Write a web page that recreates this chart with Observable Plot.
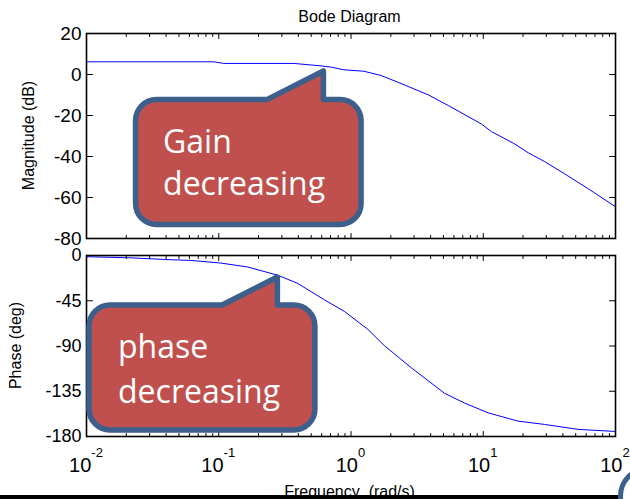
<!DOCTYPE html>
<html>
<head>
<meta charset="utf-8">
<script src="https://cdn.jsdelivr.net/npm/d3@7"></script>
<script src="https://cdn.jsdelivr.net/npm/@observablehq/plot@0.6"></script>
<style>
  html, body { margin: 0; padding: 0; background: #fff; }
  #wrap { position: relative; width: 630px; height: 499px; overflow: hidden; background: #fff; }
  #wrap svg { position: absolute; left: 0; overflow: visible; }
</style>
</head>
<body>
<div id="wrap"></div>
<script>
// ---------- data ----------
const magFreq  = [0.01, 0.0916, 0.109, 0.37, 0.593, 0.705, 0.885, 1.25, 1.69, 2.27, 3.83, 5.43, 9.66, 11.5, 17.2, 21.9, 29.0, 41.1, 62.4, 100];
const magDb    = [6.2, 6.2, 5.4, 5.4, 4.2, 3.6, 2.3, 1.6, -0.5, -3.8, -9.9, -15.1, -24.1, -27.8, -33.8, -38.2, -42.4, -48.4, -55.8, -64.5];
const phaseFreq = [0.01, 0.0215, 0.0433, 0.0613, 0.1035, 0.165, 0.279, 0.395, 0.498, 0.628, 0.889, 1.34, 1.79, 2.85, 5.09, 7.21, 10.9, 18.3, 29.1, 52.1, 100];
const phaseDeg  = [-1.2, -2.3, -4.2, -4.9, -7.5, -11.4, -19.6, -27.7, -35.9, -44, -55.5, -73.4, -89.7, -111.5, -137, -146.7, -156.5, -164.7, -168, -172.9, -175];

const decades = [0.01, 0.1, 1, 10, 100];
const decadeExponents = ["-2", "-1", "0", "1", "2"];
const minorMultipliers = [2, 3, 4, 5, 6, 7, 8, 9];
const magTicks = [20, 0, -20, -40, -60, -80];
const phaseTicks = [0, -45, -90, -135, -180];

const titleText = "Bode Diagram";
const magLabel = "Magnitude (dB)";
const phaseLabel = "Phase (deg)";
const freqLabel = "Frequency  (rad/s)";
const gainNote = ["Gain", "decreasing"];
const phaseNote = ["phase", "decreasing"];

// ---------- derived tables ----------
const minorTicks = decades.slice(0, -1).flatMap(d => minorMultipliers.map(m => +(d * m).toPrecision(3)));
const magData = magFreq.map((f, i) => ({f, v: magDb[i]}));
const phaseData = phaseFreq.map((f, i) => ({f, v: phaseDeg[i]}));

const FONT = "'Liberation Sans', Arial, Helvetica, sans-serif";
const NOTE_FONT = "'Open Sans', 'Noto Sans', sans-serif";
const FILL = "#c0504d";
const EDGE = "#3c5f8c";

const tickShape = {draw(ctx, l) { ctx.moveTo(0, 0); ctx.lineTo(0, -l); }};

function inwardTicks(yTicks) {
  const common = {shape: tickShape, anchor: "start", stroke: "black", strokeWidth: 1};
  return [
    Plot.vectorX(decades, {...common, frameAnchor: "bottom", length: 5, rotate: 0}),
    Plot.vectorX(minorTicks, {...common, frameAnchor: "bottom", length: 3, rotate: 0}),
    Plot.vectorX(decades, {...common, frameAnchor: "top", length: 5, rotate: 180}),
    Plot.vectorX(minorTicks, {...common, frameAnchor: "top", length: 3, rotate: 180}),
    Plot.vectorY(yTicks, {...common, frameAnchor: "left", length: 6, rotate: 90}),
    Plot.vectorY(yTicks, {...common, frameAnchor: "right", length: 6, rotate: -90})
  ];
}

function callout(spec) {
  return (index, scales) => {
    const L = scales.x(spec.x1), R = scales.x(spec.x2);
    const T = scales.y(spec.y1), B = scales.y(spec.y2);
    const p = scales.x(spec.baseX), tx = scales.x(spec.tipX), ty = scales.y(spec.tipY);
    const r = 21;
    const d = `M${L + r},${T} H${p} L${tx},${ty} V${T} H${R - r} A${r},${r} 0 0 1 ${R},${T + r} V${B - r} A${r},${r} 0 0 1 ${R - r},${B} H${L + r} A${r},${r} 0 0 1 ${L},${B - r} V${T + r} A${r},${r} 0 0 1 ${L + r},${T} Z`;
    const g = d3.create("svg:g");
    g.append("path").attr("d", d).attr("fill", FILL).attr("stroke", EDGE)
      .attr("stroke-width", 5.5).attr("stroke-linejoin", "round");
    spec.lines.forEach((t, i) => {
      g.append("text").attr("x", L + spec.textDx).attr("y", T + spec.lineDy[i])
        .attr("text-anchor", "start")
        .attr("fill", "#fff").attr("font-family", NOTE_FONT).attr("font-size", 32).text(t);
    });
    return g.node();
  };
}

function rotatedLabel(text, xPos) {
  return (index, scales, values, dims) => {
    const cy = (dims.marginTop + dims.height - dims.marginBottom) / 2;
    const g = d3.create("svg:g");
    g.append("text").attr("transform", `translate(${xPos},${cy}) rotate(-90)`)
      .attr("text-anchor", "middle").attr("font-family", FONT).attr("font-size", 16)
      .attr("fill", "#000").text(text);
    return g.node();
  };
}

const wrap = document.getElementById("wrap");

// ---------- magnitude panel ----------
const magPlot = Plot.plot({
  width: 630, height: 245,
  marginTop: 33, marginRight: 15, marginBottom: 7, marginLeft: 86,
  style: {fontFamily: FONT, background: "transparent", overflow: "visible"},
  x: {type: "log", domain: [0.01, 100], axis: null},
  y: {domain: [-80, 20]},
  marks: [
    Plot.axisY({ticks: magTicks, tickSize: 0, tickPadding: 5, fontSize: 19, tickFormat: d => String(d), label: null, anchor: "left", fill: "#000"}),
    Plot.line(magData, {x: "f", y: "v", stroke: "#0000ff", strokeWidth: 1}),
    ...inwardTicks(magTicks),
    Plot.frame({stroke: "black", strokeWidth: 1.6}),
    callout({x1: 0.0237, x2: 1.202, y1: -12.4, y2: -73.4, baseX: 0.235, tipX: 0.624, tipY: 1.5,
             lines: gainNote, textDx: 27.5, lineDy: [53.5, 95.5]}),
    (index, scales, values, dims) => {
      const g = d3.create("svg:g");
      g.append("text").attr("x", (dims.marginLeft + dims.width - dims.marginRight) / 2 - 1).attr("y", 22)
        .attr("text-anchor", "middle").attr("font-family", FONT).attr("font-size", 16).text(titleText);
      return g.node();
    },
    rotatedLabel(magLabel, 34)
  ]
});
magPlot.style.top = "0px";
wrap.appendChild(magPlot);

// ---------- phase panel ----------
const phasePlot = Plot.plot({
  width: 630, height: 254,
  marginTop: 10, marginRight: 15, marginBottom: 63, marginLeft: 86,
  style: {fontFamily: FONT, background: "transparent", overflow: "visible"},
  x: {type: "log", domain: [0.01, 100], axis: null},
  y: {domain: [-180, 0]},
  marks: [
    Plot.axisY({ticks: phaseTicks, tickSize: 0, tickPadding: 5, fontSize: 18, tickFormat: d => String(d), label: null, anchor: "left", fill: "#000"}),
    Plot.line(phaseData, {x: "f", y: "v", stroke: "#0000ff", strokeWidth: 1}),
    ...inwardTicks(phaseTicks),
    Plot.frame({stroke: "black", strokeWidth: 1.6}),
    callout({x1: 0.01054, x2: 0.538, y1: -49.7, y2: -174, baseX: 0.107, tipX: 0.28, tipY: -21.9,
             lines: phaseNote, textDx: 29, lineDy: [53.5, 98]}),
    (index, scales, values, dims) => {
      const g = d3.create("svg:g").attr("font-family", FONT).attr("text-anchor", "middle").attr("fill", "#000");
      const yb = dims.height - dims.marginBottom;
      decades.forEach((d, i) => {
        const t = g.append("text").attr("x", scales.x(d)).attr("y", yb + 36).attr("font-size", 20).text("10");
        t.append("tspan").attr("dy", -15).attr("font-size", 13).text(decadeExponents[i]);
      });
      g.append("text").attr("x", (dims.marginLeft + dims.width - dims.marginRight) / 2 - 1)
        .attr("y", yb + 60.5).attr("font-size", 16).text(freqLabel);
      return g.node();
    },
    rotatedLabel(phaseLabel, 21)
  ]
});
phasePlot.style.top = "245px";
wrap.appendChild(phasePlot);

// ---------- page furniture outside the chart ----------
const bar = document.createElement("div");
bar.style.cssText = "position:absolute;left:0;top:495px;width:626px;height:4px;background:#000;";
wrap.appendChild(bar);
const ring = document.createElement("div");
ring.style.cssText = `position:absolute;left:618px;top:466px;width:60px;height:60px;border-radius:50%;border:5px solid ${EDGE};background:#fff;box-sizing:border-box;`;
wrap.appendChild(ring);
</script>
</body>
</html>
